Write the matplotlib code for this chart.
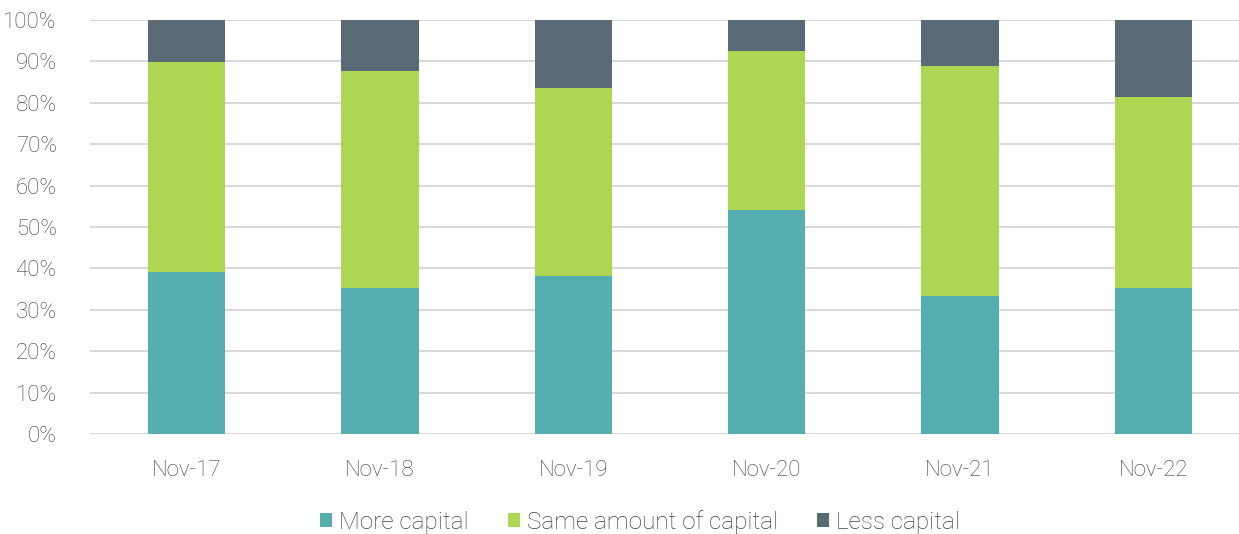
import matplotlib
matplotlib.use("Agg")
import matplotlib.pyplot as plt
from matplotlib.ticker import PercentFormatter

categories = ["Nov-17", "Nov-18", "Nov-19", "Nov-20", "Nov-21", "Nov-22"]
more_capital = [39.1, 35.3, 38.2, 54.1, 33.3, 35.3]
same_capital = [50.8, 52.4, 45.4, 38.4, 55.6, 46.2]
less_capital = [10.1, 12.3, 16.4, 7.5, 11.1, 18.5]
series_names = ["More capital", "Same amount of capital", "Less capital"]
colors = ["#56AEB0", "#ADD653", "#596A75"]

plt.rcParams['font.family'] = ['Roboto', 'DejaVu Sans']
text_color = '#3F3F3F'

fig = plt.figure(figsize=(12.39, 5.34), dpi=100)
ax = fig.add_axes([90/1239, 100/534, (1239-90)/1239, 414/534])

x = list(range(len(categories)))
bottom2 = [a + b for a, b in zip(more_capital, same_capital)]
ax.bar(x, more_capital, width=0.4, color=colors[0], label=series_names[0], zorder=3)
ax.bar(x, same_capital, width=0.4, bottom=more_capital, color=colors[1], label=series_names[1], zorder=3)
ax.bar(x, less_capital, width=0.4, bottom=bottom2, color=colors[2], label=series_names[2], zorder=3)

ax.set_ylim(0, 100)
ax.set_xlim(-0.5, 5.5 - 11/193.4)
ax.set_yticks(range(0, 101, 10))
ax.yaxis.set_major_formatter(PercentFormatter(decimals=0))
ax.set_xticks(x)
ax.set_xticklabels(categories)
ax.grid(axis='y', color='#D9D9D9', linewidth=1.5, zorder=0)
for s in ax.spines.values():
    s.set_visible(False)
ax.tick_params(axis='both', length=0, labelsize=16, labelcolor=text_color)
ax.tick_params(axis='y', pad=24)
ax.tick_params(axis='x', pad=19)
for lab in ax.get_xticklabels() + ax.get_yticklabels():
    lab.set_fontweight('light')

leg = fig.legend(loc='center', bbox_to_anchor=(640/1239, 1 - 522/534), ncol=3, frameon=False,
                 fontsize=17.5, handlelength=0.5, handleheight=0.5, handletextpad=0.3, columnspacing=1.6)
for t in leg.get_texts():
    t.set_color(text_color)
    t.set_fontweight('light')

fig.savefig("out.png", dpi=100)
